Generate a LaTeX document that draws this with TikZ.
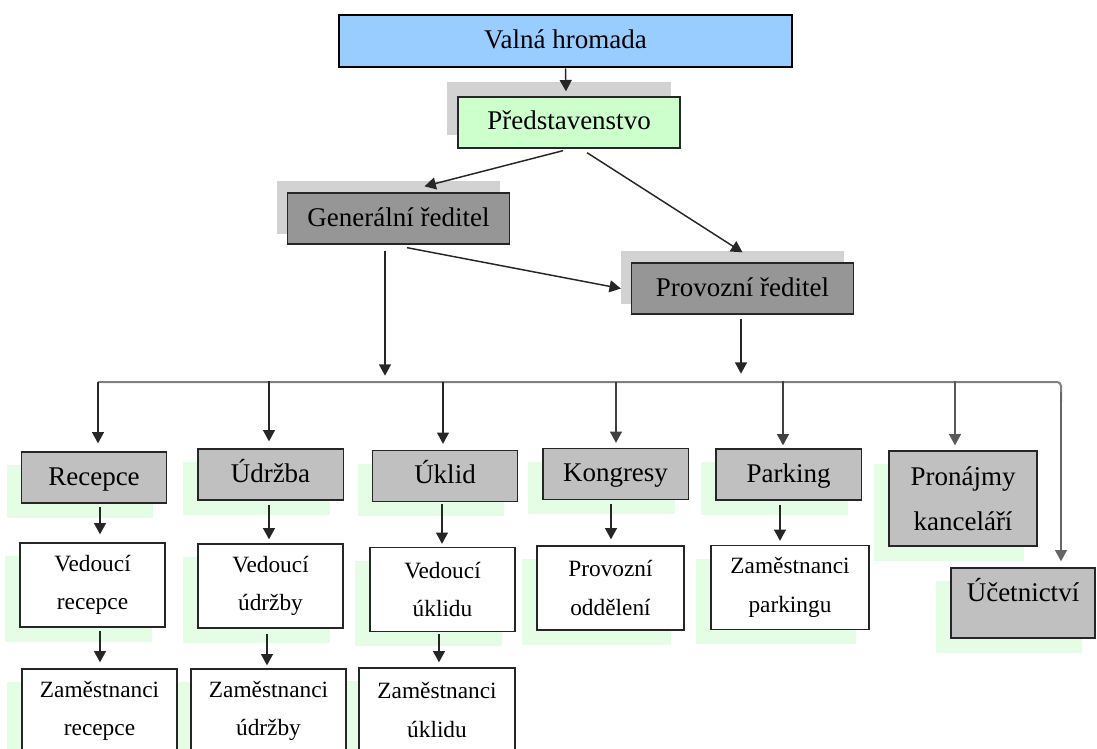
\documentclass[tikz,border=0pt]{standalone}
\usepackage{fontspec}
\setmainfont{Liberation Serif}
\usepackage{tikz}
\usetikzlibrary{arrows.meta,calc,backgrounds}
\definecolor{assemblyblue}{RGB}{153,204,255}
\definecolor{boardgreen}{RGB}{204,255,204}
\definecolor{chiefgray}{RGB}{150,150,150}
\definecolor{deptgray}{RGB}{192,192,192}
\definecolor{shadegreen}{RGB}{229,253,229}
\definecolor{shadegray}{RGB}{210,210,210}
\definecolor{busgray}{RGB}{128,128,128}

\begin{document}
\begin{tikzpicture}[x=0.75pt,y=-0.75pt,>={Triangle[width=9pt,length=8.5pt]},
  every node/.style={align=center,draw=black!85,line width=1pt,inner sep=2pt},
  bigtext/.style={font=\fontsize{20.25}{34}\selectfont},
  smalltext/.style={font=\fontsize{17.5}{29}\selectfont},
  oneline/.style={text height=15pt,text depth=3.75pt},
  chiefbox/.style={bigtext,oneline,fill=chiefgray,minimum width=166.5pt,minimum height=38.25pt},
  deptbox/.style={bigtext,fill=deptgray,minimum width=109pt,minimum height=38.25pt},
  staffbox/.style={smalltext,fill=white,minimum height=63pt},
  arr/.style={->,line width=1.1pt,black!85},
  busline/.style={line width=1.5pt,busgray}]
  \useasboundingbox (0,0) rectangle (1097,749);
  \clip (0,0) rectangle (1097,749);
  % top of the chart
  \node[draw=black,line width=2pt,fill=assemblyblue,bigtext,oneline,minimum width=339.75pt,minimum height=39pt] (valna) at (565.5,41) {Valná hromada};
  \node[bigtext,oneline,fill=boardgreen,minimum width=166.5pt,minimum height=38.25pt] (pred) at (569,122.5) {Představenstvo};
  \node[chiefbox] (gen) at (398.5,218.5) {Generální ředitel};
  \node[chiefbox] (prov) at (742.5,288.5) {Provozní ředitel};
  % departments
  \node[deptbox,oneline] (rec) at (94,477.5) {Recepce};
  \node[deptbox,oneline] (udr) at (270.5,474.5) {Údržba};
  \node[deptbox,oneline] (ukl) at (445,476) {Úklid};
  \node[deptbox,oneline] (kon) at (615.5,474) {Kongresy};
  \node[deptbox,oneline] (par) at (788.5,474.5) {Parking};
  \node[deptbox,minimum width=111pt,minimum height=71.25pt] (pro) at (963,498.5) {Pronájmy\\kanceláří};
  \node[deptbox,minimum width=108pt,minimum height=52.5pt,text height=14pt,text depth=16pt] (uce) at (1023,603) {Účetnictví};
  % staff
  \node[staffbox,minimum width=108.75pt] (vedrec) at (92.5,585) {Vedoucí\\recepce};
  \node[staffbox,minimum width=108.75pt] (vedudr) at (270.5,586) {Vedoucí\\údržby};
  \node[staffbox,minimum width=108.75pt] (vedukl) at (442.5,589.5) {Vedoucí\\úklidu};
  \node[staffbox,minimum width=110.25pt] (provodd) at (610.5,588) {Provozní\\oddělení};
  \node[staffbox,minimum width=118.5pt] (zampark) at (790,587.5) {Zaměstnanci\\parkingu};
  \node[staffbox,minimum width=116.25pt] (zamrec) at (99.5,711) {Zaměstnanci\\recepce};
  \node[staffbox,minimum width=116.25pt] (zamudr) at (268.5,711) {Zaměstnanci\\údržby};
  \node[staffbox,minimum width=117pt] (zamukl) at (437,710) {Zaměstnanci\\úklidu};
  % shadows behind the boxes
  \begin{scope}[on background layer]
    \foreach \n/\dy in {pred/-14,gen/-11,prov/-11}
      \fill[shadegray] ($(\n.south west)+(-10,\dy)$) rectangle ($(\n.north east)+(-10,\dy)$);
    \foreach \n in {rec,udr,ukl,kon,par,pro,uce,vedrec,vedudr,vedukl,provodd,zampark,zamrec,zamudr,zamukl}
      \fill[shadegreen] ($(\n.south west)+(-14,14)$) rectangle ($(\n.north east)+(-14,14)$);
  \end{scope}
  % arrows at the top
  \draw[arr] (valna.south) -- ($(pred.north)+(-3,-5)$);
  \draw[arr] ($(pred.south)+(-6,2)$) -- ($(gen.north)+(26,-6)$);
  \draw[arr] ($(pred.south)+(18,4)$) -- ($(prov.north)+(0,-10)$);
  \draw[arr] ($(gen.south)+(8.5,3)$) -- ($(prov.west)+(-10,0)$);
  \draw[arr] ($(gen.south)+(-13.5,6)$) -- ($(gen.south)+(-13.5,131)$);
  \draw[arr] ($(prov.south)+(-1.5,4)$) -- ($(prov.south)+(-1.5,59)$);
  % the bus to the departments
  \coordinate (busL) at (98,382);
  \coordinate (busR) at (1061,382);
  \draw[busline,rounded corners=3pt] (busL) -- (busR) -- ($(busR)+(0,20)$);
  \draw[arr] (busL) -- ($(rec.north)+(4,-8)$);
  \draw[arr] ($(udr.north)+(-1.5,-67)$) -- ($(udr.north)+(-1.5,-7)$);
  \draw[arr] ($(ukl.north)+(-2,-68)$) -- ($(ukl.north)+(-2,-6)$);
  \draw[arr,black!75] ($(kon.north)+(0.5,-66)$) -- ($(kon.north)+(0.5,-5)$);
  \draw[arr,black!75] ($(par.north)+(-5.5,-67)$) -- ($(par.north)+(-5.5,-3)$);
  \draw[arr,black!65] ($(pro.north)+(-8,-69)$) -- ($(pro.north)+(-8,-5)$);
  \draw[arr,black!60] ($(busR)+(0,10)$) -- ($(uce.north)+(38,-6)$);
  % departments to staff
  \draw[arr] ($(rec.south)+(6,3)$) -- ($(vedrec.north)+(7.5,-8)$);
  \draw[arr] ($(udr.south)+(-1.5,4)$) -- ($(vedudr.north)+(-1.5,-4)$);
  \draw[arr] ($(ukl.south)+(-3,2)$) -- ($(vedukl.north)+(-0.5,-3)$);
  \draw[arr] ($(kon.south)+(-4.5,4)$) -- ($(provodd.north)+(0.5,-6)$);
  \draw[arr] ($(par.south)+(-8.5,4)$) -- ($(zampark.north)+(-10,-4)$);
  \draw[arr] ($(vedrec.south)+(7.5,3)$) -- ($(zamrec.north)+(0.5,-6)$);
  \draw[arr] ($(vedudr.south)+(-3.5,5)$) -- ($(zamudr.north)+(-1.5,-3)$);
  \draw[arr] ($(vedukl.south)+(-3.5,2)$) -- ($(zamukl.north)+(2,-5)$);
\end{tikzpicture}
\end{document}
